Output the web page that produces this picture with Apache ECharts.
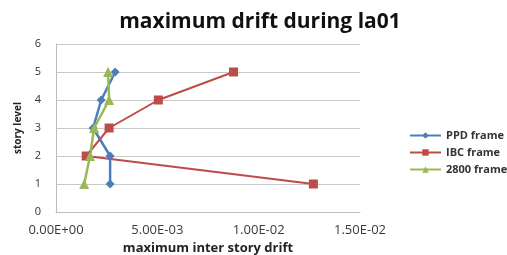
<!DOCTYPE html>
<html>
<head>
<meta charset="utf-8">
<script src="https://cdn.jsdelivr.net/npm/echarts@6/dist/echarts.min.js"></script>
<style>
  html, body { margin: 0; padding: 0; background: #fff; }
  #chart { width: 507px; height: 255px; }
</style>
</head>
<body>
<div id="chart"></div>
<script>
// story levels 1..5
const storyLevels = [1, 2, 3, 4, 5]
const ppdDrift = [0.00267, 0.00267, 0.00183, 0.00223, 0.00292]
const ibcDrift = [0.0127, 0.00149, 0.00262, 0.00505, 0.00876]
const drift2800 = [0.00139, 0.00168, 0.00188, 0.00262, 0.00257]

const font = '"Open Sans", "Liberation Sans", sans-serif'

// 5.00E-03 style labels like Excel
const sci = v => {
    const s = v.toExponential(2).toUpperCase()
    const [m, e] = s.split('E')
    const sign = e[0] === '-' ? '-' : '+'
    const digits = e.replace(/[+-]/, '').padStart(2, '0')
    return m + 'E' + sign + digits
}

const pairs = arr => arr.map((v, i) => [v, storyLevels[i]])

const chart = echarts.init(document.getElementById('chart'), null, { renderer: 'canvas' })

chart.setOption({
    animation: false,
    title: {
        text: 'maximum drift during la01',
        left: 255,
        textAlign: 'center',
        top: 7,
        textStyle: { fontFamily: font, fontWeight: 'bold', fontSize: 21, color: '#111' }
    },
    legend: {
        orient: 'vertical',
        left: 404,
        top: 125,
        itemWidth: 31,
        itemHeight: 8,
        itemGap: 6,
        textStyle: { fontFamily: font, fontSize: 11, fontWeight: 'bold', color: '#333' },
        data: ['PPD frame', 'IBC frame', '2800 frame']
    },
    // keep the plot box fixed, labels may sit outside it
    grid: { left: 56, right: 147, top: 44, bottom: 43, containLabel: false, outerBoundsMode: 'none' },
    xAxis: {
        type: 'value',
        min: 0,
        max: 0.015,
        interval: 0.005,
        name: 'maximum inter story drift',
        nameLocation: 'middle',
        nameGap: 29,
        nameTextStyle: { fontFamily: font, fontWeight: 'bold', fontSize: 13, color: '#222' },
        axisLine: { show: true, lineStyle: { color: '#bbb' } },
        axisTick: { show: false },
        splitLine: { show: false },
        axisLabel: { formatter: sci, fontFamily: font, fontSize: 13, color: '#3a3a3a', margin: 12 }
    },
    yAxis: {
        type: 'value',
        min: 0,
        max: 6,
        interval: 1,
        name: 'story level',
        nameLocation: 'middle',
        nameGap: 33,
        nameRotate: 90,
        nameTextStyle: { fontFamily: font, fontWeight: 'bold', fontSize: 10, color: '#222' },
        axisLine: { show: true, lineStyle: { color: '#bbb' } },
        axisTick: { show: false },
        splitLine: { lineStyle: { color: '#c8c8c8' } },
        axisLabel: { fontFamily: font, fontSize: 11, color: '#333', margin: 15 }
    },
    series: [
        {
            name: 'PPD frame',
            type: 'line',
            data: pairs(ppdDrift),
            color: '#4a7ebb',
            symbol: 'diamond',
            symbolSize: 9,
            lineStyle: { width: 2.5 }
        },
        {
            name: 'IBC frame',
            type: 'line',
            data: pairs(ibcDrift),
            color: '#be4b48',
            symbol: 'rect',
            symbolSize: 9,
            lineStyle: { width: 2 }
        },
        {
            name: '2800 frame',
            type: 'line',
            data: pairs(drift2800),
            color: '#98b954',
            symbol: 'triangle',
            symbolSize: 10,
            lineStyle: { width: 2.5 }
        }
    ]
})
</script>
</body>
</html>
